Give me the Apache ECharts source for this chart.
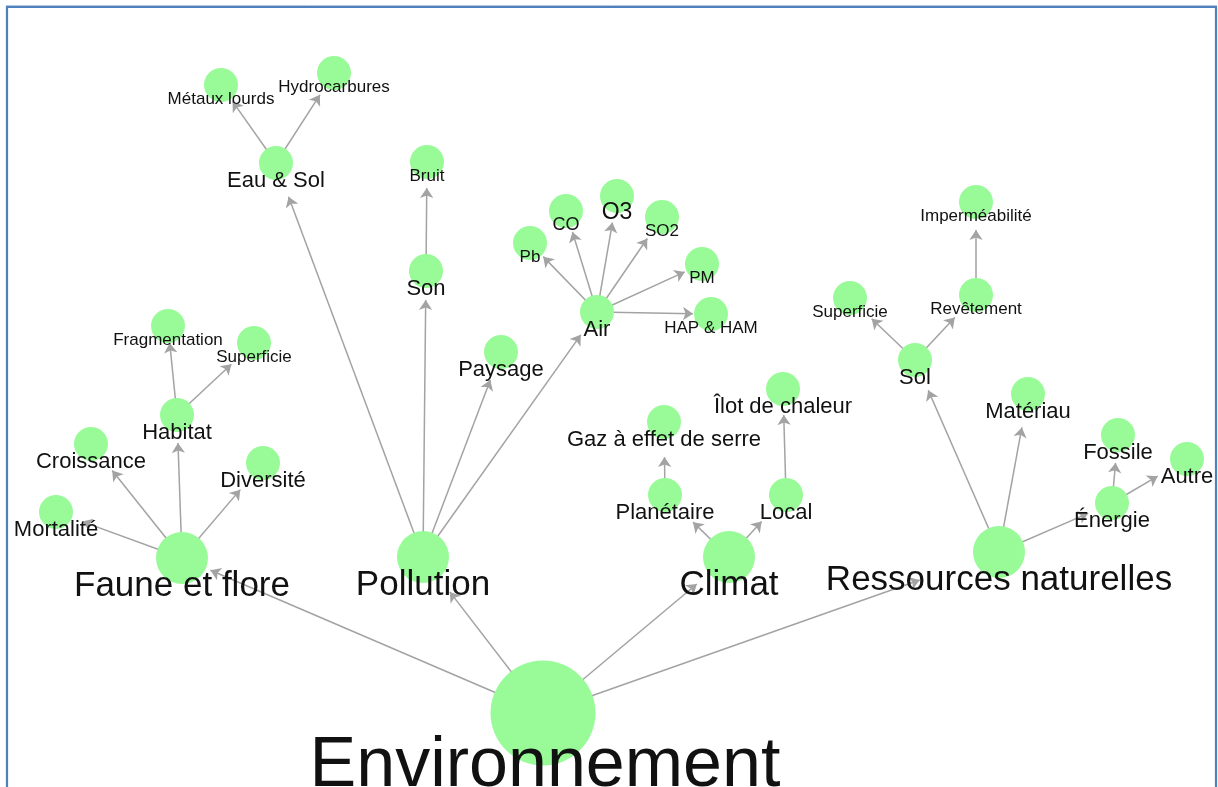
<!DOCTYPE html>
<html>
<head>
<meta charset="utf-8">
<script src="https://cdn.jsdelivr.net/npm/echarts@6/dist/echarts.min.js"></script>
<style>
html,body{margin:0;padding:0;background:#fff;}
#c{width:1218px;height:787px;}
</style>
</head>
<body>
<div id="c"></div>
<script>
// ---- data ----
const nodeLabels = ['Environnement','Faune et flore','Pollution','Climat','Ressources naturelles',
  'Mortalité','Croissance','Habitat','Diversité','Fragmentation','Superficie',
  'Eau & Sol','Métaux lourds','Hydrocarbures','Son','Bruit','Paysage','Air',
  'Pb','CO','O3','SO2','PM','HAP & HAM',
  'Planétaire','Gaz à effet de serre','Local','Îlot de chaleur',
  'Sol','Superficie','Revêtement','Imperméabilité','Matériau','Énergie','Fossile','Autre'];
const nodeX = [543,182,423,729,999, 56,91,177,263,168,254, 276,221,334,426,427,501,597,
  530,566,617,662,702,711, 665,664,786,783, 915,850,976,976,1028,1112,1118,1187];
const nodeY = [713,558,557,557,552, 512,444,415,463,326,343, 163,85,73,271,162,352,312,
  243,211,196,217,264,314, 495,422,495,389, 360,298,295,202,394,503,435,459];
const nodeParent = [-1,0,0,0,0, 1,1,1,1,7,7, 2,11,11,2,14,2,2,
  17,17,17,17,17,17, 3,24,3,26, 4,28,28,30,4,4,33,33];

// ---- styles ----
// distance (px) between a node's centre and the tip of its incoming arrow
const arrowGap = [0,31,44,42,84, 28,34,28,35,17,31, 36,20,26,29,26,30,28,
  19,22,27,26,19,18, 39,35,36,26, 33,30,31,28,34,26,28,34];
const mediumLabels = [5,6,7,8,11,14,16,17,24,25,26,27,28,32,33,34,35];
function depth(i){ let d=0; while(nodeParent[i]>=0){ i=nodeParent[i]; d++; } return d; }
function fontSizeOf(i){
  const d = depth(i);
  if (d===0) return 70;
  if (d===1) return 35;
  if (i===20) return 23;
  if (i===19) return 18;
  return mediumLabels.indexOf(i)>=0 ? 22 : 17;
}
const offsetBySize = {70:[2,54], 35:[0,28], 23:[0,17], 22:[0,18], 18:[0,14], 17:[0,14]};
function nodeSizeOf(i){ const d=depth(i); return d===0?105:(d===1?52:34); }
const FONT = 'Liberation Sans, Arial, sans-serif';

const graphNodes = nodeLabels.map((lab,i)=>({
  id: 'n'+i,
  name: lab,
  value: [nodeX[i], nodeY[i]],
  symbolSize: Math.max(2, arrowGap[i]*2)
}));
const links = [];
nodeParent.forEach((p,i)=>{ if(p>=0) links.push({source:'n'+p, target:'n'+i}); });

const circles = nodeLabels.map((lab,i)=>{
  const fs = fontSizeOf(i);
  return {
    name: lab,
    value: [nodeX[i], nodeY[i]],
    symbolSize: nodeSizeOf(i),
    label: {show:true, position:'inside', offset: offsetBySize[fs], fontSize: fs,
      color:'#111', fontFamily: FONT, formatter: lab}
  };
});

const chart = echarts.init(document.getElementById('c'), null, {renderer:'canvas'});
chart.setOption({
  backgroundColor:'#ffffff',
  animation:false,
  grid:{left:0,right:0,top:0,bottom:0},
  xAxis:{type:'value',min:0,max:1218,show:false},
  yAxis:{type:'value',min:0,max:787,inverse:true,show:false},
  graphic:[
    {type:'line', shape:{x1:6,y1:5.5,x2:1217,y2:5.5}, style:{stroke:'#b4c8e6',lineWidth:1}, silent:true},
    {type:'rect', shape:{x:7,y:7,width:1209,height:900}, style:{fill:'none',stroke:'#4f81bd',lineWidth:2.2}, silent:true}
  ],
  series:[{
    type:'graph',
    coordinateSystem:'cartesian2d',
    layout:'none',
    data: graphNodes,
    links: links,
    itemStyle:{color:'#98fb98', opacity:0},
    label:{show:false},
    edgeSymbol:['none','arrow'],
    edgeSymbolSize:[0,10],
    lineStyle:{color:'#a3a3a3', width:1.5, opacity:1, curveness:0},
    emphasis:{disabled:true},
    silent:true,
    z:2
  },{
    type:'scatter',
    data: circles,
    symbol:'circle',
    itemStyle:{color:'#98fb98', opacity:1},
    emphasis:{disabled:true},
    silent:true,
    z:3
  }]
});
</script>
</body>
</html>
